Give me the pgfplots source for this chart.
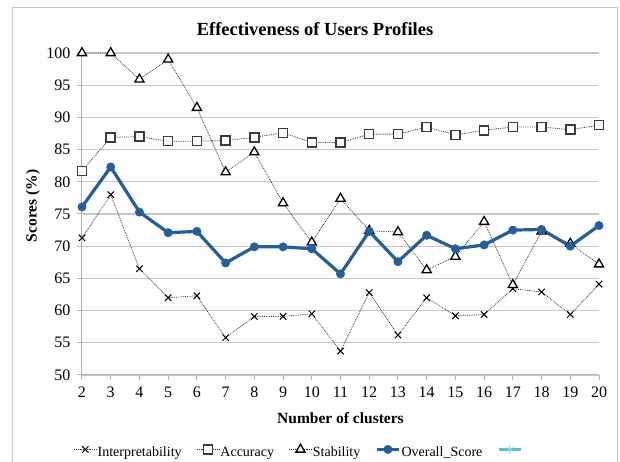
\documentclass[border=0pt]{standalone}
\usepackage{pgfplots}
\pgfplotsset{compat=1.18}
\usepackage{fontspec}
\setmainfont{Liberation Serif}
\definecolor{ovblue}{RGB}{38,94,153}
\definecolor{ltblue}{RGB}{90,190,220}
\definecolor{gridgray}{RGB}{200,200,200}
\definecolor{mkgray}{RGB}{60,60,60}
\newcommand{\lf}{\fontsize{14}{16}\selectfont}
\begin{document}
\begin{tikzpicture}[x=1pt,y=1pt]
\useasboundingbox (-82,-87) rectangle (538,375);
\draw[gray!45,line width=1pt] (-69,-100) -- (-69,367) -- (535,367) -- (535,-100);
\begin{axis}[
  scale only axis, width=517pt, height=322pt,
  xmin=2, xmax=20, ymin=50, ymax=100,
  xtick={2,...,20}, ytick={50,55,...,100},
  axis x line=bottom, axis y line=left,
  axis line style={gray!60, line width=1pt, -},
  tick align=outside, major tick length=5pt,
  tick style={gray!60, line width=1pt},
  ymajorgrids, grid style={gridgray, line width=1.3pt},
  /pgf/number format/assume math mode=true,
  ticklabel style={font=\fontsize{16}{18}\selectfont},
  xticklabel style={yshift=-3pt},
  yticklabel style={xshift=-3pt},
  title={\textbf{Effectiveness of Users Profiles}},
  title style={font=\fontsize{18.5}{20}\selectfont, at={(axis description cs:0.4507,1.056)}, anchor=center},
  xlabel={\textbf{Number of clusters}},
  xlabel style={font=\fontsize{15.5}{17}\selectfont, at={(axis description cs:0.5,-0.1335)}, anchor=center},
  ylabel={\textbf{Scores (\%)}},
  ylabel style={font=\fontsize{15.5}{17}\selectfont, at={(axis description cs:-0.0948,0.525)}, anchor=center, rotate=0},
  legend columns=5,
  legend style={at={(axis description cs:0.42,-0.238)}, anchor=center, draw=none, fill=none,
    font=\lf, nodes={font=\lf, inner sep=1pt}, column sep=0pt,
    /tikz/every even column/.append style={column sep=14pt}},
  legend image code/.code={\draw[mark repeat=2,mark phase=2] plot coordinates {(0pt,3pt) (11pt,3pt) (22pt,3pt)};},
]
\addplot[black!80, densely dotted, line width=0.8pt, mark=x, mark size=4.5pt, mark options={solid, black, line width=1pt}]
coordinates {(2,71.3)(3,78)(4,66.5)(5,62)(6,62.3)(7,55.8)(8,59.1)(9,59.1)(10,59.5)(11,53.7)(12,62.8)(13,56.2)(14,62)(15,59.2)(16,59.4)(17,63.4)(18,62.9)(19,59.4)(20,64.1)};
\addlegendentry{\lf Interpretability}
\addplot[black!80, densely dotted, line width=0.8pt, mark=square*, mark size=4.5pt, mark options={solid, draw=mkgray, fill=white, line width=1.5pt}]
coordinates {(2,81.7)(3,86.9)(4,87)(5,86.3)(6,86.3)(7,86.4)(8,86.9)(9,87.6)(10,86.1)(11,86.1)(12,87.4)(13,87.4)(14,88.5)(15,87.3)(16,88)(17,88.5)(18,88.5)(19,88.1)(20,88.8)};
\addlegendentry{\lf Accuracy}
\addplot[black!80, densely dotted, line width=0.8pt, mark=triangle*, mark size=5.3pt, mark options={solid, draw=black, fill=white, line width=1.3pt}]
coordinates {(2,100)(3,100)(4,95.9)(5,99)(6,91.5)(7,81.5)(8,84.6)(9,76.7)(10,70.6)(11,77.4)(12,72.4)(13,72.2)(14,66.3)(15,68.4)(16,73.8)(17,64)(18,72.3)(19,70.4)(20,67.2)};
\addlegendentry{\lf Stability}
\addplot[ovblue, line width=3.2pt, mark=*, mark size=4.2pt, mark options={solid, fill=ovblue, draw=ovblue, line width=0.5pt}]
coordinates {(2,76.1)(3,82.3)(4,75.3)(5,72.1)(6,72.3)(7,67.4)(8,69.9)(9,69.9)(10,69.6)(11,65.7)(12,72.3)(13,67.6)(14,71.7)(15,69.6)(16,70.2)(17,72.5)(18,72.6)(19,70)(20,73.2)};
\addlegendentry{\lf Overall\_Score}
\addlegendimage{ltblue, line width=3pt, mark=asterisk, mark size=4pt, mark options={solid, line width=0.8pt, draw=ltblue!70}}
\addlegendentry{}
\end{axis}
\end{tikzpicture}
\end{document}
